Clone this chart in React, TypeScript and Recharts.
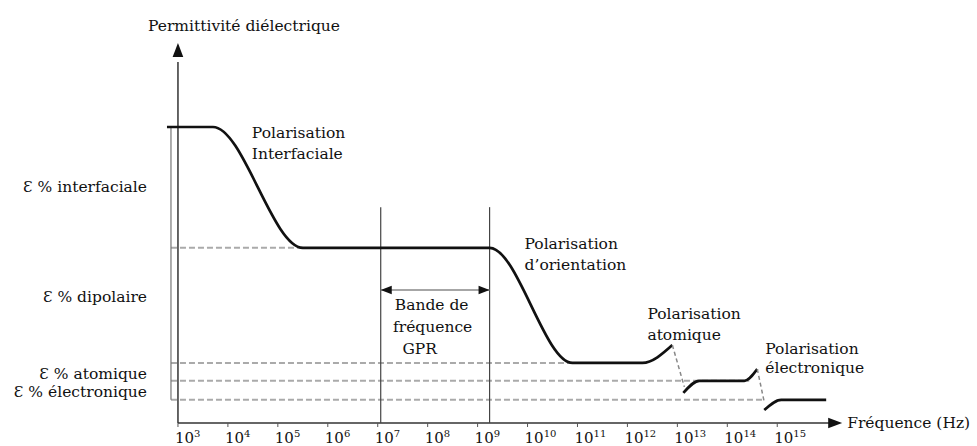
import React from 'react';
import { ComposedChart, Line, Scatter, XAxis, YAxis, ReferenceLine } from 'recharts';

document.body.style.margin = '0';

const FONT = '"DejaVu Serif", serif';

// e = log10(fréquence en Hz), v = permittivité (unités arbitraires)
const DECADES = [3, 4, 5, 6, 7, 8, 9, 10, 11, 12, 13, 14, 15];

const mainCurve = [
  { e: 2.78, v: 77.9 },
  { e: 3.7, v: 77.9 },
  { e: 5.5, v: 46.1 },
  { e: 9.24, v: 46.1 },
  { e: 10.9, v: 15.8 },
  { e: 12.3, v: 15.8 },
  { e: 12.9, v: 20.5 },
];
const atomicCurve = [
  { e: 13.12, v: 7.9 },
  { e: 13.44, v: 11.1 },
  { e: 14.34, v: 11.1 },
  { e: 14.6, v: 14.2 },
];
const electronicCurve = [
  { e: 14.74, v: 3.4 },
  { e: 15.08, v: 6.1 },
  { e: 15.98, v: 6.1 },
];
const atomicDrop = [
  { e: 12.9, v: 20.5 },
  { e: 13.14, v: 9.5 },
];
const electronicDrop = [
  { e: 14.6, v: 14.2 },
  { e: 14.74, v: 5.5 },
];

// niveaux pointillés : valeur, début, fin
const levels = [
  { v: 46.1, from: 2.86, to: 5.5 },
  { v: 15.8, from: 2.86, to: 10.9 },
  { v: 11.1, from: 2.86, to: 14.44 },
  { v: 6.1, from: 2.86, to: 14.74 },
];

const yLabels = [
  { v: 62.1, text: 'Ɛ % interfaciale' },
  { v: 33.4, text: 'Ɛ % dipolaire' },
  { v: 12.9, text: 'Ɛ % atomique' },
  { v: 8.2, text: 'Ɛ % électronique' },
];

const bandEdges = [7.06, 9.24];
const bandArrowV = 35;
const bandTop = 56.8;

const arrows = [
  { e: 3, v: 100, dir: 'up', size: 14 },
  { e: 16.3, v: 0, dir: 'right', size: 14 },
  { e: 7.06, v: 35, dir: 'left', size: 11 },
  { e: 9.24, v: 35, dir: 'right', size: 11 },
];

const notes = [
  { e: 2.4, v: 104.7, text: 'Permittivité diélectrique', anchor: 'start', size: 15.5 },
  { e: 4.48, v: 76.3, text: 'Polarisation', anchor: 'start' },
  { e: 4.48, v: 70.8, text: 'Interfaciale', anchor: 'start' },
  { e: 9.94, v: 47.1, text: 'Polarisation', anchor: 'start' },
  { e: 9.94, v: 41.6, text: 'd’orientation', anchor: 'start' },
  { e: 8.08, v: 31.1, text: 'Bande de', anchor: 'middle' },
  { e: 8.1, v: 25.5, text: 'fréquence', anchor: 'middle' },
  { e: 7.84, v: 19.5, text: 'GPR', anchor: 'middle' },
  { e: 12.4, v: 28.7, text: 'Polarisation', anchor: 'start' },
  { e: 12.4, v: 23.4, text: 'atomique', anchor: 'start' },
  { e: 14.76, v: 19.7, text: 'Polarisation', anchor: 'start' },
  { e: 14.76, v: 14.5, text: 'électronique', anchor: 'start' },
  { e: 16.4, v: 0, text: 'Fréquence (Hz)', anchor: 'start' },
];

const Arrow = (p: any) => {
  const { cx, cy, payload } = p;
  const s = payload.size;
  const w = s * 0.38;
  let pts = '';
  if (payload.dir === 'up') pts = `${cx},${cy} ${cx - w},${cy + s} ${cx + w},${cy + s}`;
  if (payload.dir === 'right') pts = `${cx},${cy} ${cx - s},${cy - w} ${cx - s},${cy + w}`;
  if (payload.dir === 'left') pts = `${cx},${cy} ${cx + s},${cy - w} ${cx + s},${cy + w}`;
  return <polygon points={pts} fill="#111" />;
};

const Note = (p: any) => {
  const { cx, cy, payload } = p;
  return (
    <text x={cx} y={cy} dy="0.35em" textAnchor={payload.anchor} fontFamily={FONT}
      fontSize={payload.size || 15.5} fill="#111">
      {payload.text}
    </text>
  );
};

const DecadeTick = (p: any) => {
  const { x, y, payload } = p;
  return (
    <g>
      <line x1={x} y1={y} x2={x} y2={y + 4} stroke="#555" strokeWidth={1} />
      <text x={x - 3} y={y + 20} fontFamily={FONT} fontSize={15} fill="#111">
        10<tspan dy={-6} fontSize={10}>{payload.value}</tspan>
      </text>
    </g>
  );
};

const LevelTick = (p: any) => {
  const { x, y, payload } = p;
  const lab = yLabels.find((l) => l.v === payload.value);
  return (
    <text x={x - 1} y={y} dy="0.35em" textAnchor="end" fontFamily={FONT} fontSize={15.5} fill="#111">
      {lab ? lab.text : ''}
    </text>
  );
};

export default function App() {
  return (
    <div style={{ width: 977, height: 446, background: '#fff' }}>
      <ComposedChart width={977} height={446} margin={{ top: 5, right: 0, bottom: 0, left: 0 }}>
        <XAxis dataKey="e" type="number" domain={[2.4, 19]} ticks={DECADES} interval={0}
          axisLine={false} tickLine={false} tickSize={0} tickMargin={0} height={23} tick={<DecadeTick />} />
        <YAxis dataKey="v" type="number" domain={[0, 110]} ticks={yLabels.map((l) => l.v)} interval={0}
          axisLine={false} tickLine={false} tickSize={0} tickMargin={0} width={148} tick={<LevelTick />} />

        {levels.map((l, i) => (
          <ReferenceLine key={`lvl-${i}`} segment={[{ x: l.from, y: l.v }, { x: l.to, y: l.v }]}
            stroke="#aaa" strokeWidth={2} strokeDasharray="6 3" />
        ))}

        <ReferenceLine segment={[{ x: 2.86, y: 77.9 }, { x: 2.86, y: 6.1 }]} stroke="#777" strokeWidth={1.2} />
        <ReferenceLine segment={[{ x: 3, y: 0 }, { x: 3, y: 95 }]} stroke="#333" strokeWidth={1.5} />
        <ReferenceLine segment={[{ x: 3, y: 0 }, { x: 16.1, y: 0 }]} stroke="#333" strokeWidth={1.5} />

        {bandEdges.map((b) => (
          <ReferenceLine key={`band-${b}`} segment={[{ x: b, y: 0 }, { x: b, y: bandTop }]} stroke="#444" strokeWidth={1.2} />
        ))}
        <ReferenceLine segment={[{ x: bandEdges[0], y: bandArrowV }, { x: bandEdges[1], y: bandArrowV }]}
          stroke="#888" strokeWidth={1.5} />

        <Line data={mainCurve} dataKey="v" type="monotone" stroke="#111" strokeWidth={2.7} dot={false} activeDot={false} isAnimationActive={false} />
        <Line data={atomicCurve} dataKey="v" type="monotone" stroke="#111" strokeWidth={2.7} dot={false} activeDot={false} isAnimationActive={false} />
        <Line data={electronicCurve} dataKey="v" type="monotone" stroke="#111" strokeWidth={2.7} dot={false} activeDot={false} isAnimationActive={false} />
        <Line data={atomicDrop} dataKey="v" type="linear" stroke="#888" strokeWidth={1.5} strokeDasharray="4 3" dot={false} activeDot={false} isAnimationActive={false} />
        <Line data={electronicDrop} dataKey="v" type="linear" stroke="#888" strokeWidth={1.5} strokeDasharray="4 3" dot={false} activeDot={false} isAnimationActive={false} />

        <Scatter data={arrows} dataKey="v" shape={<Arrow />} isAnimationActive={false} />
        <Scatter data={notes} dataKey="v" shape={<Note />} isAnimationActive={false} />
      </ComposedChart>
    </div>
  );
}
